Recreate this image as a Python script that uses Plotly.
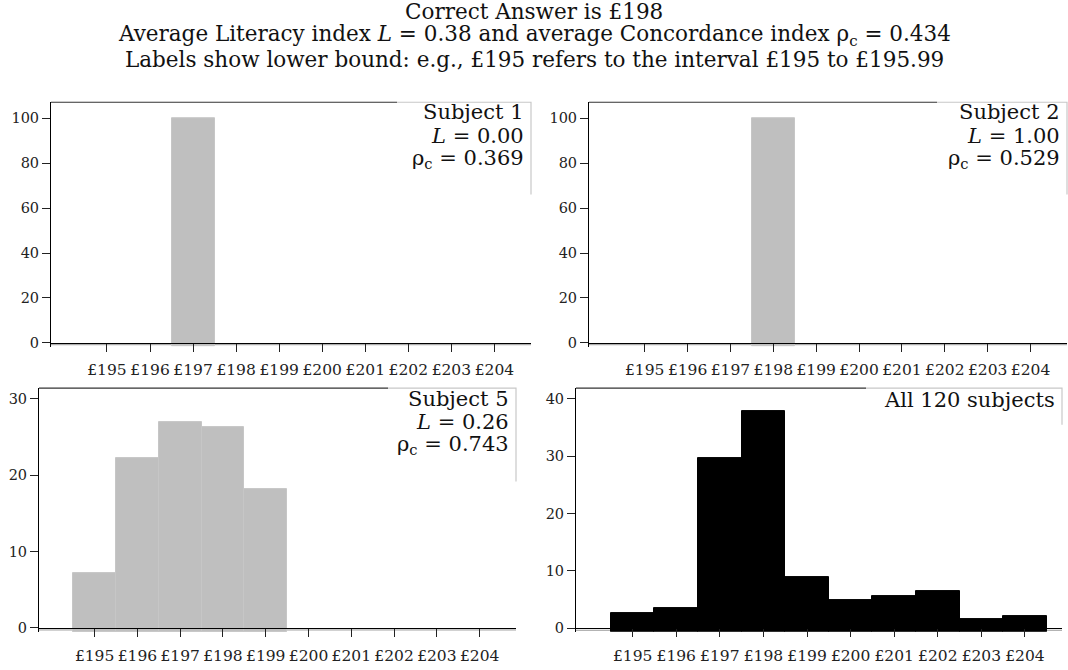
import plotly.graph_objects as go

# ---- data ----
bins = [195, 196, 197, 198, 199, 200, 201, 202, 203, 204]
bin_labels = ["£195", "£196", "£197", "£198", "£199", "£200", "£201", "£202", "£203", "£204"]
subject1 = [0, 0, 100, 0, 0, 0, 0, 0, 0, 0]
subject2 = [0, 0, 0, 100, 0, 0, 0, 0, 0, 0]
subject5 = [7.2, 22.2, 27.0, 26.3, 18.2, 0, 0, 0, 0, 0]
all_subjects = [2.6, 3.6, 29.6, 37.9, 8.9, 5.0, 5.6, 6.5, 1.6, 2.1]

title_lines = [
    "Correct Answer is £198",
    "Average Literacy index <i>L</i> = 0.38 and average Concordance index ρ<sub>c</sub> = 0.434",
    "Labels show lower bound: e.g., £195 refers to the interval £195 to £195.99",
]
panel_texts = [
    ["Subject 1", "<i>L</i> = 0.00", "ρ<sub>c</sub> = 0.369"],
    ["Subject 2", "<i>L</i> = 1.00", "ρ<sub>c</sub> = 0.529"],
    ["Subject 5", "<i>L</i> = 0.26", "ρ<sub>c</sub> = 0.743"],
    ["All 120 subjects"],
]
series = [subject1, subject2, subject5, all_subjects]
yticks = [[0, 20, 40, 60, 80, 100], [0, 20, 40, 60, 80, 100], [0, 10, 20, 30], [0, 10, 20, 30, 40]]

W, H = 1068, 670
FONT = "DejaVu Serif"


def fx(x):
    return x / W


def fy(y):
    return 1 - y / H


# layout geometry in pixels
panels = [
    dict(x0=51, x1=531, top=103, y0=345.3, bottom=349.3, ppu=2.26, box_left=397, box_bottom=196,
         text_y=[113, 137, 160], fill="#bfbfbf", line="#c6c6c6"),
    dict(x0=589, x1=1067, top=103, y0=345.3, bottom=349.3, ppu=2.26, box_left=937, box_bottom=196,
         text_y=[113, 137, 160], fill="#bfbfbf", line="#c6c6c6"),
    dict(x0=39, x1=516, top=391, y0=632.7, bottom=636.7, ppu=7.7, box_left=388, box_bottom=485,
         text_y=[402, 425, 448], fill="#bfbfbf", line="#c6c6c6"),
    dict(x0=576, x1=1062, top=391, y0=633, bottom=636.5, ppu=5.78, box_left=866, box_bottom=428,
         text_y=[403], fill="#000000", line="#000000"),
]
XRANGE = [193.7, 204.85]

fig = go.Figure()
shapes = []
annotations = []

for i, (p, vals) in enumerate(zip(panels, series)):
    k = "" if i == 0 else str(i + 1)
    ymin = -(p["bottom"] - p["y0"]) / p["ppu"]
    ymax = (p["y0"] - p["top"]) / p["ppu"]
    xs = [b for b, v in zip(bins, vals) if v > 0]
    vs = [v for v in vals if v > 0]
    fig.add_trace(go.Bar(
        x=xs, y=[v - ymin for v in vs], base=ymin, width=1.0,
        marker=dict(color=p["fill"], line=dict(color=p["line"], width=1)),
        xaxis="x" + k, yaxis="y" + k, showlegend=False,
    ))
    fig.layout["xaxis" + k] = dict(
        domain=[fx(p["x0"]), fx(p["x1"])], range=XRANGE, anchor="free", position=fy(p["y0"]),
        tickmode="array", tickvals=bins, ticktext=bin_labels,
        ticks="outside", ticklen=8, tickcolor="#222", tickwidth=1,
        showline=True, linecolor="#000", linewidth=1, showgrid=False, zeroline=False,
        tickfont=dict(family=FONT, size=15.5, color="#222"), ticklabelstandoff=5,
        fixedrange=True,
    )
    fig.layout["yaxis" + k] = dict(
        domain=[fy(p["bottom"]), fy(p["top"])], range=[ymin, ymax], anchor="x" + k,
        tickmode="array", tickvals=yticks[i],
        ticks="outside", ticklen=8, tickcolor="#222", tickwidth=1,
        showline=True, linecolor="#000", linewidth=1, showgrid=False, zeroline=False,
        tickfont=dict(family=FONT, size=14.5, color="#222"),
        fixedrange=True,
    )
    # faint line just under the zero axis
    shapes.append(dict(type="line", xref="paper", yref="paper",
                       x0=fx(p["x0"]), x1=fx(p["x1"]), y0=fy(p["y0"] + 2), y1=fy(p["y0"] + 2),
                       line=dict(color="#9a9a9a", width=1), layer="below"))
    # dark top frame up to the text box
    shapes.append(dict(type="line", xref="paper", yref="paper",
                       x0=fx(p["x0"]), x1=fx(p["box_left"]), y0=fy(p["top"]), y1=fy(p["top"]),
                       line=dict(color="#333", width=1.2)))
    # text box (white, light grey top/right edges)
    shapes.append(dict(type="rect", xref="paper", yref="paper",
                       x0=fx(p["box_left"]), x1=fx(p["x1"]), y0=fy(p["box_bottom"]), y1=fy(p["top"]),
                       fillcolor="white", line=dict(width=0)))
    shapes.append(dict(type="path", xref="paper", yref="paper",
                       path=f"M {fx(p['box_left'])} {fy(p['top'])} L {fx(p['x1'])} {fy(p['top'])} "
                            f"L {fx(p['x1'])} {fy(p['box_bottom'])}",
                       line=dict(color="#c8c8c8", width=1.2)))
    for txt, ty in zip(panel_texts[i], p["text_y"]):
        annotations.append(dict(text=txt, xref="paper", yref="paper", x=fx(p["x1"] - 5), y=fy(ty),
                                xanchor="right", yanchor="middle", showarrow=False,
                                font=dict(family=FONT, size=21, color="#111")))

for txt, ty in zip(title_lines, [12, 36, 60]):
    annotations.append(dict(text=txt, xref="paper", yref="paper", x=0.5, y=fy(ty),
                            xanchor="center", yanchor="middle", showarrow=False,
                            font=dict(family=FONT, size=21.5, color="#111")))

fig.update_layout(
    width=W, height=H, margin=dict(l=0, r=0, t=0, b=0),
    paper_bgcolor="white", plot_bgcolor="white",
    bargap=0, shapes=shapes, annotations=annotations, showlegend=False,
)

fig.write_html(
    "out.html",
    config={"displayModeBar": False},
    post_script="document.body.style.margin='0';document.body.style.padding='0';document.body.style.overflow='hidden';",
)
